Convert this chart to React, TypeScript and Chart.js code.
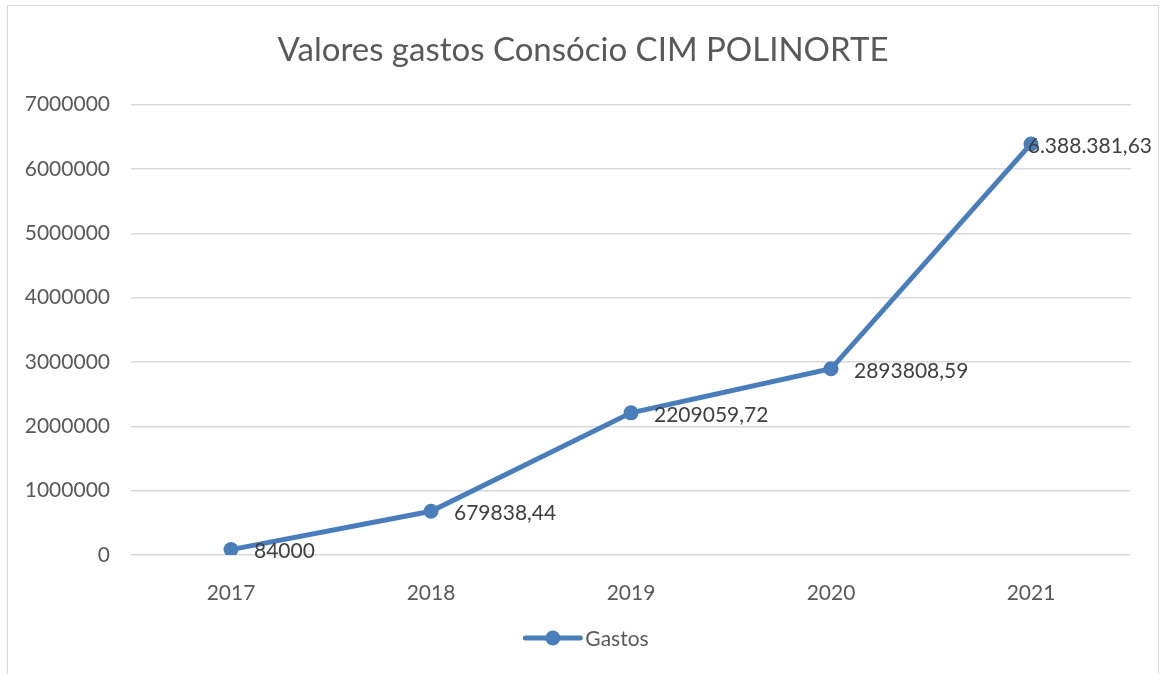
import React, { useEffect, useRef } from "react";
import { Chart, registerables } from "chart.js";

Chart.register(...registerables);

const categories = ["2017", "2018", "2019", "2020", "2021"];
const gastos = [84000, 679838.44, 2209059.72, 2893808.59, 6388381.63];
const dataLabels = ["84000", "679838,44", "2209059,72", "2893808,59", "6.388.381,63"];
const seriesName = "Gastos";
const titleText = "Valores gastos Consócio CIM POLINORTE";

const LINE = "#4a7ebb";
const TEXT = "#595959";
const FONT = "Lato, 'Open Sans', sans-serif";

const labelPlugin = {
  id: "pointLabels",
  afterDatasetsDraw(chart: any) {
    const ctx = chart.ctx;
    const meta = chart.getDatasetMeta(0);
    ctx.save();
    ctx.font = `21px ${FONT}`;
    ctx.fillStyle = "#404040";
    ctx.textBaseline = "middle";
    ctx.textAlign = "left";
    meta.data.forEach((pt: any, i: number) => {
      const t = dataLabels[i];
      const w = ctx.measureText(t).width;
      let x = pt.x + 23;
      const maxRight = chart.width - 14;
      if (x + w > maxRight) x = maxRight - w;
      ctx.fillText(t, x, pt.y + 2);
    });
    ctx.restore();
  },
};

const legendPlugin = {
  id: "customLegend",
  afterDraw(chart: any) {
    const ctx = chart.ctx;
    const ds = chart.data.datasets[0];
    ctx.save();
    ctx.font = `21px ${FONT}`;
    const label = ds.label;
    const tw = ctx.measureText(label).width;
    const lineW = 55;
    const gap = 5;
    const total = lineW + gap + tw;
    const startX = chart.width / 2 - total / 2 + 4;
    const y = 638;
    ctx.strokeStyle = LINE;
    ctx.lineWidth = 5;
    ctx.lineCap = "round";
    ctx.beginPath();
    ctx.moveTo(startX, y);
    ctx.lineTo(startX + lineW, y);
    ctx.stroke();
    ctx.fillStyle = LINE;
    ctx.beginPath();
    ctx.arc(startX + lineW / 2, y, 7.5, 0, Math.PI * 2);
    ctx.fill();
    ctx.fillStyle = TEXT;
    ctx.textBaseline = "middle";
    ctx.textAlign = "left";
    ctx.fillText(label, startX + lineW + gap, y + 1);
    ctx.restore();
  },
};

export default function App() {
  const ref = useRef<HTMLCanvasElement>(null);
  useEffect(() => {
    document.body.style.margin = "0";
    document.body.style.overflow = "hidden";
    const chart = new Chart(ref.current!, {
      type: "line",
      data: {
        labels: categories,
        datasets: [
          {
            label: seriesName,
            data: gastos,
            borderColor: LINE,
            backgroundColor: LINE,
            borderWidth: 5,
            pointRadius: 7.5,
            pointHoverRadius: 7.5,
            pointBackgroundColor: LINE,
            pointBorderWidth: 0,
            tension: 0,
          },
        ],
      },
      options: {
        animation: false,
        responsive: false,
        maintainAspectRatio: false,
        layout: { padding: 0 },
        plugins: {
          legend: { display: false },
          tooltip: { enabled: false },
          title: {
            display: true,
            text: titleText,
            color: TEXT,
            font: { family: FONT, size: 33, weight: "normal" },
            padding: { top: 31, bottom: 34 },
          },
        },
        scales: {
          x: {
            offset: true,
            grid: { display: false },
            border: { display: false },
            ticks: { color: TEXT, font: { family: FONT, size: 21 }, padding: 18 },
            afterFit: (s: any) => {
              s.height = 119;
            },
          },
          y: {
            min: 0,
            max: 7000000,
            grid: { color: "#d9d9d9", lineWidth: 1.5, drawTicks: false },
            border: { display: false },
            ticks: {
              stepSize: 1000000,
              color: TEXT,
              padding: 21,
              font: { family: FONT, size: 21 },
              callback: (v: any) => String(v),
            },
            afterFit: (s: any) => {
              s.width = 131;
            },
          },
          y2: {
            position: "right",
            display: true,
            grid: { display: false },
            border: { display: false },
            ticks: { display: false },
            afterFit: (s: any) => {
              s.width = 35;
            },
          },
        },
      },
      plugins: [labelPlugin, legendPlugin],
    });
    return () => chart.destroy();
  }, []);
  return (
    <div style={{ position: "absolute", left: 0, top: 0, width: 1166, height: 674, background: "#fff", overflow: "hidden" }}>
      <div
        style={{
          position: "absolute",
          left: 7,
          top: 5,
          width: 1152,
          height: 700,
          border: "1.5px solid #d9d9d9",
          boxSizing: "border-box",
        }}
      />
      <canvas ref={ref} width={1166} height={674} style={{ position: "absolute", left: 0, top: 0 }} />
    </div>
  );
}
